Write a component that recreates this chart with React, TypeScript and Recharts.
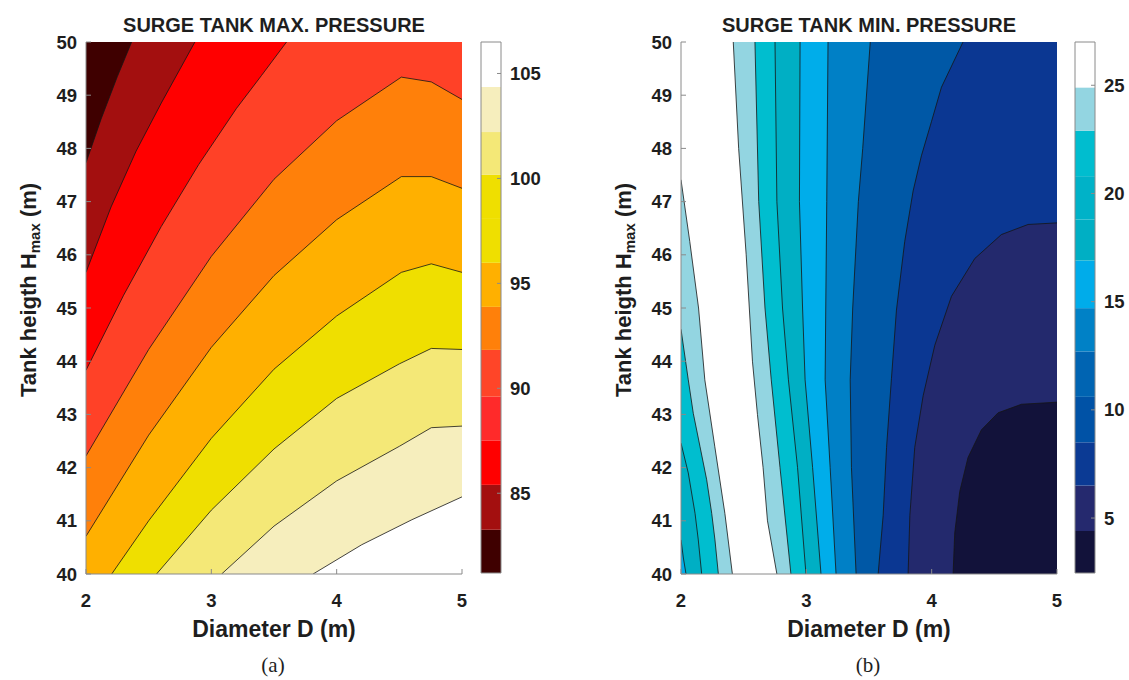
import React from "react";
import { Area, ComposedChart, Line, ReferenceArea, XAxis, YAxis } from "recharts";

const FONT = "'Liberation Sans', Arial, Helvetica, sans-serif";
const INK = "#1e1e1e";

// ---- (a) SURGE TANK MAX. PRESSURE : contour lines as [D, H], bottom-right first
const maxL9 = [[3.812, 40], [4.2, 40.55], [4.6, 41.02], [5, 41.45]];
const maxL8 = [[3.082, 40], [3.5, 40.9], [4, 41.75], [4.5, 42.4], [4.755, 42.75], [5, 42.78]];
const maxL7 = [[2.563, 40], [3, 41.2], [3.5, 42.35], [4, 43.3], [4.5, 43.95], [4.755, 44.24], [5, 44.22]];
const maxL6 = [[2.205, 40], [2.5, 41.0], [3, 42.55], [3.5, 43.85], [4, 44.85], [4.516, 45.67], [4.755, 45.83], [5, 45.67]];
const maxL5 = [[2, 40.71], [2.5, 42.61], [3, 44.26], [3.5, 45.61], [4, 46.66], [4.516, 47.47], [4.755, 47.47], [5, 47.25]];
const maxL4 = [[2, 42.22], [2.5, 44.22], [3, 45.97], [3.5, 47.42], [4, 48.52], [4.516, 49.34], [4.755, 49.25], [5, 48.92]];
const maxL3 = [[2, 43.83], [2.3, 45.24], [2.6, 46.53], [2.9, 47.7], [3.2, 48.75], [3.4, 49.37], [3.6, 50]];
const maxL2 = [[2, 45.67], [2.2, 46.9], [2.4, 47.95], [2.6, 48.85], [2.869, 50]];
const maxL1 = [[2, 47.73], [2.12, 48.55], [2.25, 49.35], [2.364, 50]];
const maxLines = [maxL9, maxL8, maxL7, maxL6, maxL5, maxL4, maxL3, maxL2, maxL1];
// colour of the region above each line
const maxFills = ["#f6eebd", "#f4e877", "#efdf00", "#ffb000", "#ff800a", "#ff4127", "#ff0000", "#a30f0f", "#3f0000"];
const maxBase = "#ffffff";

const maxLevels = [81.2, 83.26, 85.4, 87.5, 89.6, 91.83, 93.88, 95.98, 98.07, 100.17, 102.21, 104.36, 106.5];
const maxBandColors = ["#3f0000", "#a30f0f", "#ff0000", "#ff2a2a", "#ff4528", "#ff800a", "#ffb000", "#efdf00", "#efdf00", "#f4e877", "#f6eebd", "#ffffff"];
const maxTicks = [85, 90, 95, 100, 105];

// ---- (b) SURGE TANK MIN. PRESSURE : contour lines as [H, D], right-most first
const minR1 = [[40, 4.171], [40.77, 4.184], [41.55, 4.224], [42.19, 4.29], [42.71, 4.397], [43.03, 4.53], [43.19, 4.716], [43.23, 5]];
const minR2 = [[40, 3.812], [41.1, 3.826], [42.38, 3.865], [43.35, 3.932], [44.3, 4.025], [45.22, 4.158], [45.93, 4.344], [46.38, 4.556], [46.57, 4.769], [46.6, 5]];
const minR3 = [[40, 3.573], [41.1, 3.613], [42.38, 3.64], [43.67, 3.679], [44.96, 3.719], [46.25, 3.785], [47.2, 3.852], [47.86, 3.918], [48.5, 3.998], [49.15, 4.078], [50, 4.25]];
const minR4 = [[40, 3.397], [42, 3.36], [43.65, 3.35], [45, 3.37], [47, 3.415], [48, 3.45], [50, 3.51]];
const minR5 = [[40, 3.237], [42, 3.19], [43.65, 3.15], [45, 3.155], [47, 3.163], [50, 3.173]];
const minR6 = [[40, 3.117], [42, 3.05], [43.65, 2.99], [45, 2.97], [47, 2.945], [50, 2.95]];
const minR7 = [[40, 2.997], [42, 2.93], [43.65, 2.857], [45, 2.81], [47, 2.765], [50, 2.75]];
const minR8 = [[40, 2.877], [42, 2.79], [43.65, 2.72], [45, 2.67], [47, 2.62], [50, 2.59]];
const minR9 = [[40, 2.765], [41, 2.69], [42, 2.655], [43, 2.61], [44, 2.57], [46, 2.52], [48, 2.46], [50, 2.417]];
const minR10 = [[40, 2.41], [41.14, 2.35], [42.39, 2.27], [43.65, 2.19], [45, 2.14], [46.25, 2.07], [47.41, 2]];
const minR11 = [[40, 2.298], [40.64, 2.271], [41.14, 2.245], [41.77, 2.205], [42.39, 2.152], [43.02, 2.098], [43.65, 2.058], [44.6, 2]];
const minR12 = [[40, 2.165], [40.64, 2.138], [41.14, 2.112], [41.9, 2.058], [42.46, 2]];
const minR13 = [[40, 2.04], [40.3, 2.019], [40.64, 2]];
const minLines = [minR1, minR2, minR3, minR4, minR5, minR6, minR7, minR8, minR9, minR10, minR11, minR12, minR13];
// colour of the region left of each line
const minFills = ["#23296d", "#0b3792", "#0058a6", "#0080c6", "#00adea", "#00afc4", "#00becf", "#93d5e1", "#ffffff", "#93d5e1", "#00becf", "#00afc4", "#00adea"];
const minBase = "#12123a";

const minLevels = [2.46, 4.4, 6.5, 8.5, 10.6, 12.7, 14.7, 16.9, 18.8, 20.8, 22.9, 24.9, 27];
const minBandColors = ["#12123a", "#25296e", "#0b3a94", "#0052a6", "#0064b2", "#0081c6", "#00acea", "#00afc4", "#00b2c8", "#00bdcf", "#93d5e1", "#ffffff"];
const minTicks = [5, 10, 15, 20, 25];

const dTicks = [2, 3, 4, 5];
const hTicks = [40, 41, 42, 43, 44, 45, 46, 47, 48, 49, 50];

const tickStyle = { fill: INK, fontSize: 18.5, fontWeight: 700, fontFamily: FONT };
const frame = { stroke: "#8a8a8a", strokeWidth: 1 };

function YLab() {
  const cx = 28;
  const cy = 290;
  return (
    <text
      x={cx}
      y={cy}
      transform={`rotate(-90 ${cx} ${cy})`}
      textAnchor="middle"
      dominantBaseline="central"
      fill={INK}
      fontSize={22}
      fontWeight={700}
      fontFamily={FONT}
    >
      Tank heigth H
      <tspan fontSize={15} dy={6}>max</tspan>
      <tspan dy={-6}> (m)</tspan>
    </text>
  );
}

function XLab() {
  return (
    <text x={274} y={637} textAnchor="middle" fill={INK} fontSize={23} fontWeight={700} fontFamily={FONT}>
      Diameter D (m)
    </text>
  );
}

function MaxPlot() {
  return (
    <ComposedChart width={470} height={680} margin={{ top: 42, right: 8, bottom: 0, left: 0 }}>
      <XAxis xAxisId="b" type="number" dataKey="d" domain={[2, 5]} ticks={dTicks} allowDataOverflow height={106}
        tickSize={-5} tickMargin={25} tick={tickStyle} axisLine={frame} tickLine={frame} label={<XLab />} />
      <XAxis xAxisId="t" orientation="top" type="number" domain={[2, 5]} ticks={dTicks} allowDataOverflow height={0}
        tickSize={-5} tick={false} axisLine={frame} tickLine={frame} />
      <YAxis yAxisId="l" type="number" domain={[40, 50]} ticks={hTicks} allowDataOverflow width={86}
        tickSize={-5} tickMargin={14} tick={tickStyle} axisLine={frame} tickLine={frame} label={<YLab />} />
      <YAxis yAxisId="r" orientation="right" type="number" domain={[40, 50]} ticks={hTicks} allowDataOverflow width={0}
        tickSize={-5} tick={false} axisLine={frame} tickLine={frame} />
      <ReferenceArea xAxisId="b" yAxisId="l" x1={2} x2={5} y1={40} y2={50} fill={maxBase} fillOpacity={1} stroke="none" />
      {maxLines.map((ln, i) => {
        const pts = ln[0][0] > 2 ? [[2, 40], ...ln] : ln;
        return (
          <Area key={`a${i}`} xAxisId="b" yAxisId="l" type="linear"
            data={pts.map(([d, h]) => ({ d, r: [h, 50] }))} dataKey="r"
            fill={maxFills[i]} fillOpacity={1} stroke="none" isAnimationActive={false} />
        );
      })}
      {maxLines.map((ln, i) => (
        <Line key={`l${i}`} xAxisId="b" yAxisId="l" type="linear"
          data={ln.map(([d, h]) => ({ d, h }))} dataKey="h"
          stroke="#151515" strokeWidth={0.8} dot={false} isAnimationActive={false} />
      ))}
    </ComposedChart>
  );
}

function MinPlot() {
  return (
    <ComposedChart layout="vertical" width={470} height={680} margin={{ top: 42, right: 8, bottom: 0, left: 0 }}>
      <XAxis xAxisId="b" type="number" domain={[2, 5]} ticks={dTicks} allowDataOverflow height={106}
        tickSize={-5} tickMargin={25} tick={tickStyle} axisLine={frame} tickLine={frame} label={<XLab />} />
      <XAxis xAxisId="t" orientation="top" type="number" domain={[2, 5]} ticks={dTicks} allowDataOverflow height={0}
        tickSize={-5} tick={false} axisLine={frame} tickLine={frame} />
      <YAxis yAxisId="l" type="number" dataKey="h" domain={[40, 50]} ticks={hTicks} allowDataOverflow width={86} reversed
        tickSize={-5} tickMargin={14} tick={tickStyle} axisLine={frame} tickLine={frame} label={<YLab />} />
      <YAxis yAxisId="r" orientation="right" type="number" domain={[40, 50]} ticks={hTicks} allowDataOverflow width={0} reversed
        tickSize={-5} tick={false} axisLine={frame} tickLine={frame} />
      <ReferenceArea xAxisId="b" yAxisId="l" x1={2} x2={5} y1={40} y2={50} fill={minBase} fillOpacity={1} stroke="none" />
      {minLines.map((ln, i) => {
        const last = ln[ln.length - 1];
        const pts = last[0] < 50 ? [...ln, [50, last[1]]] : ln;
        return (
          <Area key={`a${i}`} xAxisId="b" yAxisId="l" type="linear"
            data={pts.map(([h, d]) => ({ h, r: [2, d] }))} dataKey="r"
            fill={minFills[i]} fillOpacity={1} stroke="none" isAnimationActive={false} />
        );
      })}
      {minLines.map((ln, i) => (
        <Line key={`l${i}`} xAxisId="b" yAxisId="l" type="linear"
          data={ln.map(([h, d]) => ({ h, d }))} dataKey="d"
          stroke="#151515" strokeWidth={0.8} dot={false} isAnimationActive={false} />
      ))}
    </ComposedChart>
  );
}

function ColorBar({ levels, colors, ticks }: { levels: number[]; colors: string[]; ticks: number[] }) {
  const lo = levels[0];
  const hi = levels[levels.length - 1];
  return (
    <ComposedChart width={90} height={680} margin={{ top: 42, right: 0, bottom: 107, left: 11 }}>
      <XAxis type="number" dataKey="x" domain={[0, 1]} hide allowDataOverflow />
      <YAxis orientation="right" type="number" domain={[lo, hi]} ticks={ticks} allowDataOverflow width={59}
        tickSize={-4} tickMargin={13} tick={tickStyle} axisLine={false} tickLine={frame} />
      {colors.map((c, i) => (
        <Area key={i} type="linear" data={[{ x: 0, v: [levels[i], levels[i + 1]] }, { x: 1, v: [levels[i], levels[i + 1]] }]}
          dataKey="v" fill={c} fillOpacity={1} stroke="none" isAnimationActive={false} />
      ))}
      <ReferenceArea x1={0} x2={1} y1={lo} y2={hi} fill="none" stroke="#8a8a8a" strokeWidth={1} />
    </ComposedChart>
  );
}

const titleStyle: React.CSSProperties = {
  position: "absolute", top: 13, width: 470, textAlign: "center", fontFamily: FONT,
  fontWeight: 700, fontSize: 20, color: INK, lineHeight: "24px",
};
const capStyle: React.CSSProperties = {
  position: "absolute", top: 652, width: 100, textAlign: "center",
  fontFamily: "'Liberation Serif', 'DejaVu Serif', serif", fontSize: 21, color: INK, lineHeight: "26px",
};

export default function App() {
  return (
    <div style={{ position: "absolute", left: 0, top: 0, width: 1129, height: 680, background: "#fff", overflow: "hidden" }}>
      <div style={{ position: "absolute", left: 0, top: 0 }}><MaxPlot /></div>
      <div style={{ position: "absolute", left: 470, top: 0 }}>
        <ColorBar levels={maxLevels} colors={maxBandColors} ticks={maxTicks} />
      </div>
      <div style={{ position: "absolute", left: 595, top: 0 }}><MinPlot /></div>
      <div style={{ position: "absolute", left: 1064, top: 0 }}>
        <ColorBar levels={minLevels} colors={minBandColors} ticks={minTicks} />
      </div>
      <div style={{ ...titleStyle, left: 39 }}>SURGE TANK MAX. PRESSURE</div>
      <div style={{ ...titleStyle, left: 634 }}>SURGE TANK MIN. PRESSURE</div>
      <div style={{ ...capStyle, left: 223 }}>(a)</div>
      <div style={{ ...capStyle, left: 818 }}>(b)</div>
    </div>
  );
}
